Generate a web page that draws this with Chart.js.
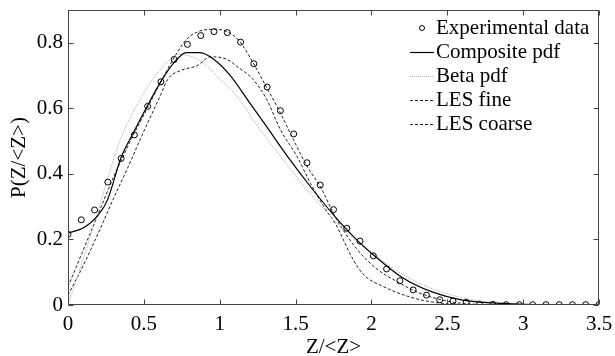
<!DOCTYPE html>
<html>
<head>
<meta charset="utf-8">
<script src="https://cdn.jsdelivr.net/npm/chart.js@4/dist/chart.umd.min.js"></script>
<style>
  html, body { margin: 0; padding: 0; background: #fff; }
  #wrap { width: 615px; height: 356px; }
  #warm { font-family: "Liberation Serif"; position: absolute; left: -999px; top: 0; font-size: 21px; }
</style>
</head>
<body>
<span id="warm">P(Z/&lt;Z&gt;) 0.5</span>
<div id="wrap"><canvas id="pdfChart" width="615" height="356"></canvas></div>
<script>
// ─── Data ─────────────────────────────────────
const expX = [0, 0.0875, 0.175, 0.2625, 0.35, 0.4375, 0.525, 0.6125, 0.7, 0.7875,
  0.875, 0.9625, 1.05, 1.1375, 1.225, 1.3125, 1.4, 1.4875, 1.575, 1.6625,
  1.75, 1.8375, 1.925, 2.0125, 2.1, 2.1875, 2.275, 2.3625, 2.45, 2.5375,
  2.625, 2.7125, 2.8, 2.8875, 2.975, 3.0625, 3.15, 3.2375, 3.325, 3.4125, 3.5];
const expY = [0.216, 0.26, 0.29, 0.375, 0.447, 0.519, 0.606, 0.681, 0.749, 0.795,
  0.822, 0.834, 0.831, 0.802, 0.736, 0.665, 0.593, 0.522, 0.434, 0.366,
  0.291, 0.234, 0.195, 0.15, 0.11, 0.074, 0.046, 0.03, 0.016, 0.012,
  0.008, 0.002, 0.002, 0.001, 0.001, 0.001, 0.001, 0.001, 0.001, 0.001, 0.001];

const compX = [0, 0.1, 0.2, 0.26, 0.35, 0.43, 0.52, 0.61, 0.7, 0.78, 0.87, 0.96, 1.07, 1.2, 1.3,
  1.46, 1.6, 1.75, 1.9, 2.0, 2.2, 2.4, 2.6, 2.85, 3.0, 3.5];
const compY = [0.22, 0.235, 0.275, 0.32, 0.45, 0.525, 0.605, 0.68, 0.74, 0.77, 0.77, 0.75, 0.70, 0.615, 0.55,
  0.445, 0.36, 0.275, 0.2, 0.158, 0.085, 0.04, 0.015, 0.005, 0.002, 0];

const betaX = [0, 0.1, 0.2, 0.29, 0.35, 0.475, 0.56, 0.65, 0.72, 0.8, 0.87, 1.0, 1.13, 1.25, 1.42,
  1.53, 1.75, 1.9, 2.0, 2.2, 2.4, 2.6, 2.8, 3.0, 3.5];
const betaY = [0, 0.14, 0.29, 0.43, 0.51, 0.627, 0.69, 0.739, 0.765, 0.76, 0.745, 0.69, 0.627, 0.545, 0.443,
  0.377, 0.26, 0.195, 0.16, 0.095, 0.05, 0.022, 0.008, 0.003, 0];

const fineX = [0, 0.1, 0.2, 0.3, 0.35, 0.4, 0.5, 0.6, 0.7, 0.78, 0.87, 0.96, 1.05, 1.13, 1.22, 1.31,
  1.4, 1.485, 1.57, 1.67, 1.76, 1.9, 2.03, 2.17, 2.32, 2.52, 2.7, 3.0, 3.5];
const fineY = [0.056, 0.167, 0.279, 0.39, 0.44, 0.49, 0.58, 0.67, 0.755, 0.81, 0.836, 0.841, 0.834, 0.805, 0.739, 0.663,
  0.586, 0.505, 0.428, 0.355, 0.27, 0.173, 0.112, 0.071, 0.036, 0.01, 0.002, 0, 0];

const coarseX = [0, 0.1, 0.2, 0.3, 0.39, 0.5, 0.6, 0.66, 0.74, 0.85, 0.94, 1.05, 1.11, 1.22, 1.31,
  1.4, 1.51, 1.6, 1.7, 1.76, 1.88, 1.95, 2.08, 2.25, 2.43, 2.7, 3.5];
const coarseY = [0.03, 0.12, 0.22, 0.325, 0.415, 0.53, 0.63, 0.69, 0.715, 0.73, 0.757, 0.749, 0.729, 0.688, 0.627,
  0.535, 0.453, 0.37, 0.29, 0.25, 0.138, 0.092, 0.056, 0.025, 0.007, 0.001, 0];

const seriesLabels = ['Experimental data', 'Composite pdf', 'Beta pdf', 'LES fine', 'LES coarse'];

const pts = (xs, ys) => xs.map((x, i) => ({ x, y: ys[i] }));
const fmt = v => String(Math.round(v * 100) / 100);

// ─── Shared look ──────────────────────────────
const FONT = "'Liberation Serif', 'Times New Roman', Times, serif";
Chart.defaults.font.family = FONT;
Chart.defaults.font.size = 21;
Chart.defaults.color = '#000';

const lineBase = { showLine: true, pointRadius: 0, fill: false, cubicInterpolationMode: 'monotone' };

// box round the plot with inward ticks, MATLAB style
const boxPlugin = {
  id: 'box',
  afterDatasetsDraw(chart) {
    const { ctx, chartArea: a, scales: { x, y } } = chart;
    const L = Math.round(a.left) + 0.5, R = Math.round(a.right) - 0.5;
    const T = Math.round(a.top) + 0.5, B = Math.round(a.bottom) - 0.5;
    const tl = 5;
    ctx.save();
    ctx.strokeStyle = '#444';
    ctx.lineWidth = 1;
    ctx.strokeRect(L, T, R - L, B - T);
    ctx.beginPath();
    x.ticks.forEach(t => {
      const px = Math.round(x.getPixelForValue(t.value)) + 0.5;
      ctx.moveTo(px, B); ctx.lineTo(px, B - tl);
      ctx.moveTo(px, T); ctx.lineTo(px, T + tl);
    });
    y.ticks.forEach(t => {
      const py = Math.round(y.getPixelForValue(t.value)) + 0.5;
      ctx.moveTo(L, py); ctx.lineTo(L + tl, py);
      ctx.moveTo(R, py); ctx.lineTo(R - tl, py);
    });
    ctx.stroke();
    ctx.restore();
  },
};

// legend drawn inside the plot, no frame
const legendPlugin = {
  id: 'insideLegend',
  afterDraw(chart) {
    const { ctx } = chart;
    const x0 = 410, x1 = 434, tx = 436, y0 = 28, step = 24;
    ctx.save();
    ctx.font = '21px ' + FONT;
    ctx.textBaseline = 'middle';
    ctx.fillStyle = '#000';
    chart.data.datasets.forEach((ds, i) => {
      const yy = y0 + i * step;
      if (ds.showLine) {
        ctx.strokeStyle = ds.borderColor;
        ctx.lineWidth = ds.borderWidth;
        ctx.setLineDash(ds.borderDash || []);
        ctx.beginPath();
        ctx.moveTo(x0, yy + 0.5); ctx.lineTo(x1, yy + 0.5);
        ctx.stroke();
      } else {
        ctx.setLineDash([]);
        ctx.strokeStyle = ds.borderColor;
        ctx.lineWidth = 1;
        ctx.beginPath();
        ctx.arc(422, yy, 2.5, 0, Math.PI * 2);
        ctx.stroke();
      }
      ctx.setLineDash([]);
      ctx.fillText(ds.label, tx, yy);
    });
    ctx.restore();
  },
};

function draw() {
  new Chart(document.getElementById('pdfChart'), {
    type: 'scatter',
    data: {
      datasets: [
        { label: seriesLabels[0], data: pts(expX, expY), showLine: false,
          pointStyle: 'circle', pointRadius: 3, borderColor: '#000', borderWidth: 1,
          backgroundColor: 'rgba(0,0,0,0)' },
        { ...lineBase, label: seriesLabels[1], data: pts(compX, compY), borderColor: '#000', borderWidth: 1.2 },
        { ...lineBase, label: seriesLabels[2], data: pts(betaX, betaY), borderColor: '#aaa', borderWidth: 1, borderDash: [1, 1] },
        { ...lineBase, label: seriesLabels[3], data: pts(fineX, fineY), borderColor: '#222', borderWidth: 1, borderDash: [3, 2] },
        { ...lineBase, label: seriesLabels[4], data: pts(coarseX, coarseY), borderColor: '#222', borderWidth: 1, borderDash: [3, 2] },
      ],
    },
    options: {
      responsive: false,
      animation: false,
      devicePixelRatio: 1,
      layout: { padding: { top: 10, right: 16, left: 0, bottom: 0 } },
      plugins: { legend: { display: false }, tooltip: { enabled: false } },
      scales: {
        x: {
          type: 'linear', min: 0, max: 3.5,
          grid: { display: false, drawTicks: false },
          border: { display: false },
          ticks: { stepSize: 0.5, padding: 7, autoSkip: false, maxRotation: 0, includeBounds: false, callback: fmt },
          title: { display: true, text: 'Z/<Z>', padding: { top: 0, bottom: -4 } },
          afterFit(s) { s.height = 51; s.paddingLeft = 0; s.paddingRight = 0; },
        },
        y: {
          type: 'linear', min: 0, max: 0.9,
          grid: { display: false, drawTicks: false },
          border: { display: false },
          ticks: { stepSize: 0.2, padding: 5, includeBounds: false, callback: fmt },
          title: { display: true, text: 'P(Z/<Z>)', padding: { top: 7, bottom: 0 } },
          afterFit(s) { s.width = 68; s.paddingTop = 0; s.paddingBottom = 0; },
        },
      },
    },
    plugins: [boxPlugin, legendPlugin],
  });
}

if (document.fonts && document.fonts.load) {
  document.fonts.load("21px 'Liberation Serif'").then(draw, draw);
} else {
  draw();
}
</script>
</body>
</html>
